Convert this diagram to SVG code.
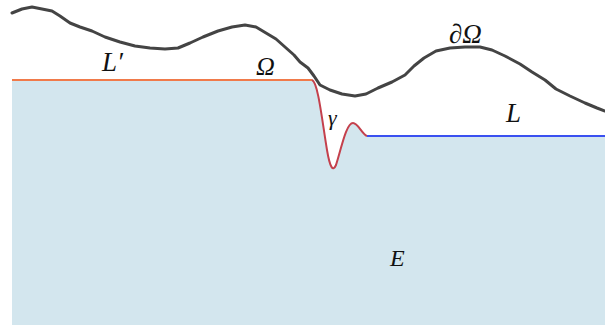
<svg xmlns="http://www.w3.org/2000/svg" width="605" height="325" viewBox="0 0 605 325">
<style>
.lbl{font-family:"Liberation Serif","DejaVu Serif",serif;font-style:italic;fill:#111}
</style>
<rect width="605" height="325" fill="#ffffff"/>
<g id="region-E">
<path d="M12,80 H312 C318,82 322,120 327,150 C330,168 333,172 336,165 C341,150 346,123 353,123 C358,123 362,134 367,136 H605 V325 H12 Z" fill="#d3e6ee"/>
</g>
<g id="connectors" fill="none">
<path id="Lprime" d="M12,80 H312" stroke="#f07a4a" stroke-width="2"/>
<path id="L" d="M367,136 H605" stroke="#3a50f0" stroke-width="2"/>
<path id="gamma" d="M312,80 C318,82 322,120 327,150 C330,168 333,172 336,165 C341,150 346,123 353,123 C358,123 362,134 367,136" stroke="#c4404c" stroke-width="2"/>
<path id="boundary" d="M12,13 L22,9 L32,7 L42,9 L52,11 L60,16 L70,23 L80,27 L92,31 L105,37 L120,42 L135,46 L150,48 L165,49 L178,48 L190,43 L203,37 L218,31 L232,27 L245,25 L256,27 L266,33 L276,39 L285,47 L294,55 L300,62 L308,68 L314,76 L320,85 L330,90 L342,94 L355,96 L366,94 L378,88 L392,82 L405,75 L414,66 L424,58 L436,51 L450,48 L465,47 L480,47 L492,50 L505,56 L520,64 L532,72 L545,80 L556,89 L570,96 L585,103 L597,108 L605,111" stroke="#444444" stroke-width="3" stroke-linejoin="round" stroke-linecap="round"/>
</g>
<g id="labels">
<text class="lbl" x="102" y="71" font-size="27">L′</text>
<text class="lbl" x="256" y="75" font-size="26">Ω</text>
<text class="lbl" x="449" y="43" font-size="27">∂Ω</text>
<text class="lbl" x="506" y="122" font-size="27">L</text>
<text class="lbl" x="328" y="125" font-size="22">γ</text>
<text class="lbl" x="390" y="266" font-size="24">E</text>
</g>
</svg>
